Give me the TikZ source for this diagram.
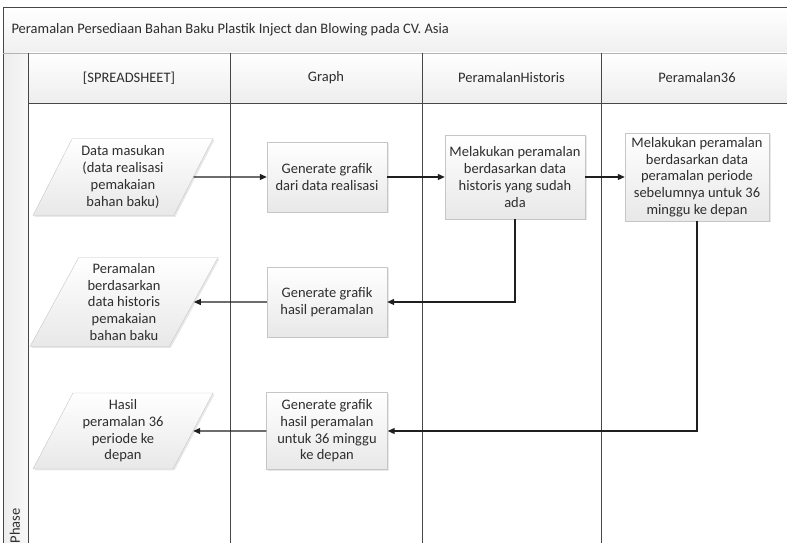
\documentclass[tikz,border=0pt]{standalone}
\usepackage{fontspec}
\setmainfont{Carlito}
\usetikzlibrary{shapes.geometric,arrows.meta,shadows}

\begin{document}
\begin{tikzpicture}[x=1pt, y=1pt,
	font=\fontsize{14.5}{16.7}\selectfont,
	garis/.style={draw=black!72, line width=0.9pt},
	kotak/.style={draw=gray!45, top color=white, bottom color=gray!18, text=black!82, align=center, inner sep=2pt,
		drop shadow={opacity=0.18, shadow xshift=1.5pt, shadow yshift=-1.5pt}},
	jajar/.style={kotak, trapezium, trapezium left angle=63, trapezium right angle=117, trapezium stretches=true},
	panah/.style={draw=black!88, line width=1.1pt, -{Triangle[length=7pt, width=6pt]}}]

				\useasboundingbox (0,0) rectangle (787,543);

				% pool en lanes
				\fill[top color=white, bottom color=gray!12] (3,490) rectangle (792,536);
				\fill[top color=white, bottom color=gray!14] (28,440) rectangle (792,490);
				\fill[left color=gray!14, right color=gray!6] (3,-2) rectangle (28,490);
				\draw[garis] (792,536) -- (3,536) -- (3,-2);
				\draw[garis, draw=gray!60] (3,490) -- (792,490);
				\draw[garis] (28,440) -- (792,440);
				\foreach \xlane in {28,230,422,601}
					\draw[garis] (\xlane,490) -- (\xlane,-2);

				\node[anchor=west, text=black!82] (judul) at (8,513) {Peramalan Persediaan Bahan Baku Plastik Inject dan Blowing pada CV. Asia};
				\node[text=black!82] (lanesheet) at (129,465) {[SPREADSHEET]};
				\node[text=black!82] (lanegraph) at (326,465) {Graph};
				\node[text=black!82] (lanehistoris) at (511.5,465) {PeramalanHistoris};
				\node[text=black!82] (lane36) at (697,465) {Peramalan36};
				\node[rotate=90, anchor=west, text=black!82] (fase) at (15,-4) {Phase};

				% langkah-langkah
				\node[jajar, minimum width=180pt, minimum height=77pt] (datamasukan) at (123,366) {Data masukan\\(data realisasi\\pemakaian\\bahan baku)};
				\node[kotak, minimum width=120pt, minimum height=70pt] (grafikrealisasi) at (327,366) {Generate grafik\\dari data realisasi};
				\node[kotak, minimum width=140pt, minimum height=84pt] (peramalanhistoris) at (515,366) {Melakukan peramalan\\berdasarkan data\\historis yang sudah\\ada};
				\node[kotak, minimum width=144pt, minimum height=88pt] (peramalan36) at (697,366) {Melakukan peramalan\\berdasarkan data\\peramalan periode\\sebelumnya untuk 36\\minggu ke depan};

				\node[kotak, minimum width=120pt, minimum height=70pt] (grafikhasil) at (327,241) {Generate grafik\\hasil peramalan};
				\node[jajar, minimum width=188pt, minimum height=89pt] (hasilhistoris) at (124,241) {Peramalan\\berdasarkan\\data historis\\pemakaian\\bahan baku};

				\node[kotak, minimum width=121pt, minimum height=77pt] (grafik36) at (327,112) {Generate grafik\\hasil peramalan\\untuk 36 minggu\\ke depan};
				\node[jajar, minimum width=180pt, minimum height=76pt] (hasil36) at (123,112) {Hasil\\peramalan 36\\periode ke\\depan};

				% alur
				\draw[panah] (datamasukan.east) -- (grafikrealisasi.west);
				\draw[panah] (grafikrealisasi.east) -- (peramalanhistoris.west);
				\draw[panah] (peramalanhistoris.east) -- (peramalan36.west);
				\draw[panah] (peramalanhistoris.south) |- (grafikhasil.east);
				\draw[panah] (grafikhasil.west) -- (hasilhistoris.east);
				\draw[panah] (peramalan36.south) |- (grafik36.east);
				\draw[panah] (grafik36.west) -- (hasil36.east);

\end{tikzpicture}
\end{document}
